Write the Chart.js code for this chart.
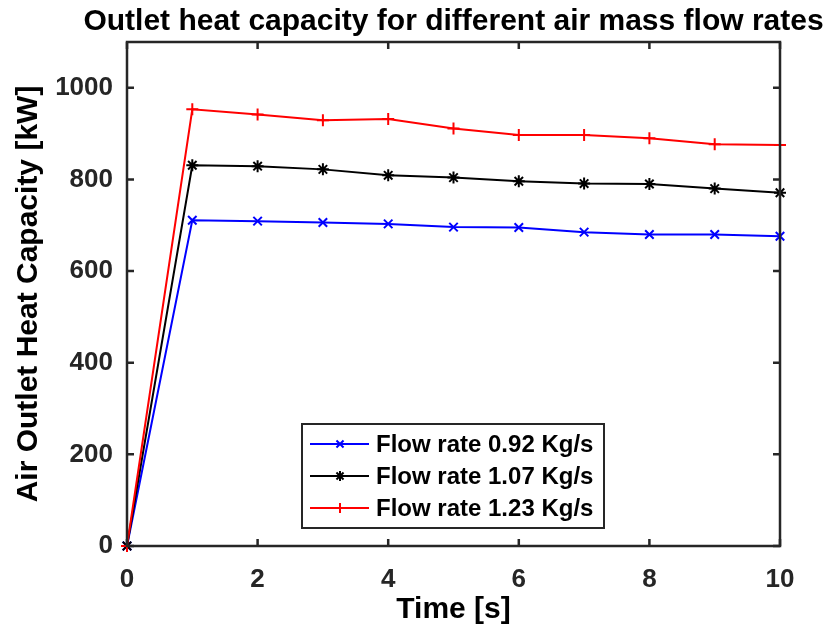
<!DOCTYPE html>
<html>
<head>
<meta charset="utf-8">
<script src="https://cdn.jsdelivr.net/npm/chart.js@4.4.0/dist/chart.umd.min.js"></script>
<style>
body{margin:0;background:#fff;}
</style>
</head>
<body>
<canvas id="cap" width="829" height="634"></canvas>
<script>
var times=[0,1,2,3,4,5,6,7,8,9,10];
var flow092=[0,711,709,706,703,696,695,685,680,680,676];
var flow107=[0,831,829,822,809,804,796,791,790,780,771];
var flow123=[0,953,942,929,932,911,897,897,890,877,875];
var seriesNames=['Flow rate 0.92 Kg/s','Flow rate 1.07 Kg/s','Flow rate 1.23 Kg/s'];
var titleText='Outlet heat capacity for different air mass flow rates';

var FONT='"Liberation Sans", Arial, sans-serif';
var AXC='#262626';

function pts(arr){
	return arr.map(function(v,i){return {x:times[i],y:v};});
}

// matlab style box with inward ticks on all four sides, title centred over the axes
var boxPlugin={
	id:'box',
	afterDatasetsDraw:function(chart){
		var c=chart.ctx, a=chart.chartArea;
		var xs=chart.scales.x, ys=chart.scales.y;
		c.save();
		c.strokeStyle=AXC;
		c.lineWidth=2.5;
		c.strokeRect(a.left,a.top,a.right-a.left,a.bottom-a.top);
		c.beginPath();
		xs.ticks.forEach(function(t){
			var px=xs.getPixelForValue(t.value);
			c.moveTo(px,a.bottom);c.lineTo(px,a.bottom-7);
			c.moveTo(px,a.top);c.lineTo(px,a.top+7);
		});
		ys.ticks.forEach(function(t){
			var py=ys.getPixelForValue(t.value);
			c.moveTo(a.left,py);c.lineTo(a.left+7,py);
			c.moveTo(a.right,py);c.lineTo(a.right-7,py);
		});
		c.stroke();
		c.fillStyle='#000';
		c.font='bold 30px '+FONT;
		c.textAlign='center';
		c.textBaseline='middle';
		c.fillText(titleText,(a.left+a.right)/2,22);
		c.restore();
	}
};

// boxed legend inside the plot
var legendPlugin={
	id:'boxLegend',
	afterDraw:function(chart){
		var c=chart.ctx;
		var x0=302,y0=424,w=302,h=104,row=32;
		c.save();
		c.fillStyle='#fff';
		c.fillRect(x0,y0,w,h);
		c.strokeStyle=AXC;
		c.lineWidth=2;
		c.strokeRect(x0,y0,w,h);
		c.font='bold 24px '+FONT;
		c.textBaseline='middle';
		c.textAlign='left';
		var ds=chart.data.datasets;
		for(var i=0;i<ds.length;i++){
			var y=y0+20+i*row;
			c.strokeStyle=ds[i].borderColor;
			c.lineWidth=2;
			c.beginPath();c.moveTo(x0+8,y);c.lineTo(x0+67,y);c.stroke();
			Chart.helpers.drawPoint(c,{pointStyle:ds[i].pointStyle,radius:5,rotation:0,borderWidth:2},x0+38,y);
			c.fillStyle='#000';
			c.fillText(ds[i].label,x0+74,y+1);
		}
		c.restore();
	}
};

function mk(label,arr,col,style,ord){
	return {
		label:label,
		data:pts(arr),
		borderColor:col,
		backgroundColor:col,
		borderWidth:2,
		pointStyle:style,
		pointRadius:6,
		pointBorderWidth:2,
		pointBorderColor:col,
		pointHoverRadius:6,
		tension:0,
		clip:false,
		order:ord
	};
}

var chart=new Chart(document.getElementById('cap').getContext('2d'),{
	type:'line',
	data:{
		datasets:[
			mk(seriesNames[0],flow092,'#0000ff','crossRot',2),
			mk(seriesNames[1],flow107,'#000000','star',1),
			mk(seriesNames[2],flow123,'#ff0000','cross',0)
		]
	},
	options:{
		responsive:false,
		animation:false,
		layout:{padding:{left:0,right:49,top:42,bottom:0}},
		plugins:{
			legend:{display:false},
			tooltip:{enabled:false},
			title:{display:false}
		},
		scales:{
			x:{
				type:'linear',
				min:0,max:10,
				grid:{display:false,drawTicks:false,tickLength:0},
				border:{display:false},
				ticks:{stepSize:2,color:AXC,padding:18,font:{family:FONT,size:26,weight:'bold'},maxRotation:0},
				title:{display:true,text:'Time [s]',color:'#000',font:{family:FONT,size:30,weight:'bold',lineHeight:1.2},padding:{top:0,bottom:6}},
				afterFit:function(s){s.height=88;}
			},
			y:{
				min:0,max:1100,
				grid:{display:false,drawTicks:false,tickLength:0},
				border:{display:false},
				ticks:{stepSize:200,includeBounds:false,color:AXC,padding:14,font:{family:FONT,size:26,weight:'bold'},
					callback:function(v){return String(v);}},
				title:{display:true,text:'Air Outlet Heat Capacity [kW]',color:'#000',font:{family:FONT,size:30,weight:'bold',lineHeight:1.2},padding:{top:11,bottom:0}},
				afterFit:function(s){s.width=127;}
			}
		}
	},
	plugins:[boxPlugin,legendPlugin]
});
</script>
</body>
</html>
